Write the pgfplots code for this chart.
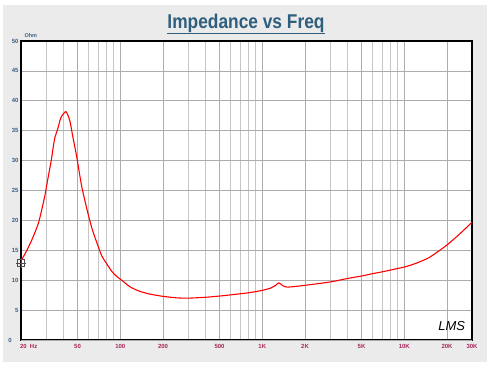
\documentclass[border=0pt]{standalone}
\usepackage{pgfplots}
\pgfplotsset{compat=1.18}
\usepackage{fontspec}
\setmainfont{Liberation Sans}
\definecolor{titleblue}{HTML}{2F5F7E}
\definecolor{ytickc}{HTML}{3B5F86}
\definecolor{xtickc}{HTML}{A8265A}
\definecolor{panel}{HTML}{EBEBEB}
\begin{document}
\begin{tikzpicture}[x=1bp,y=1bp]
\useasboundingbox (0,0) rectangle (490,368);
\fill[white] (0,0) rectangle (490,368);
\fill[panel] (3,6) rectangle (487,363);
\node[text=titleblue,font=\bfseries\fontsize{20}{22}\selectfont] at (246,344) {\scalebox{0.87}[1]{\underline{Impedance vs Freq}}};
\begin{axis}[
  at={(21bp,28bp)}, anchor=south west,
  scale only axis, width=451bp, height=299bp,
  xmode=log, xmin=20, xmax=30000, ymin=0, ymax=50,
  axis background/.style={fill=white},
  axis line style={black, line width=1.2pt},
  xtick={20,50,100,200,500,1000,2000,5000,10000,20000,30000},
  xticklabels={\makebox[0pt][l]{\hspace{-1bp}20\ \ Hz},50,100,200,500,1K,2K,5K,10K,20K,30K},
  minor xtick={30,40,60,70,80,90,300,400,600,700,800,900,3000,4000,6000,7000,8000,9000},
  ytick={5,10,15,20,25,30,35,40,45,50},
  yticklabels={5,10,15,20,25,30,35,40,45,50},
  extra y ticks={0},
  extra y tick labels={},
  grid=both,
  major grid style={gray!65, line width=0.8pt},
  minor grid style={gray!45, line width=0.6pt},
  tick style={draw=none},
  minor tick length=0pt, major tick length=0pt,
  xticklabel style={text=xtickc, font=\bfseries\fontsize{6}{7}\selectfont, yshift=-1bp},
  yticklabel style={text=ytickc, font=\bfseries\fontsize{6}{7}\selectfont, xshift=1bp},
  clip=false,
]
\addplot[red, line width=1.1pt, smooth, tension=0.4] coordinates {
(20,13.2)(22,15.0)(24.1,17.0)(26.5,19.5)(28,21.8)(29.5,24.2)(30.2,25.6)(31.5,28)(32.7,30.1)(33.7,32.2)(34.6,33.8)(35.6,34.7)(36.6,35.6)(37.6,36.7)(38.6,37.4)(40,37.9)(41.4,38.2)(42.8,37.6)(44.3,36.5)(46.5,33.8)(49.3,30.7)(53.6,25.6)(59.2,21.2)(63.5,18.5)(68.6,16.2)(74,14.1)(80,12.8)(87,11.5)(94.7,10.6)(105,9.8)(117,8.9)(135,8.2)(160,7.7)(200,7.3)(250,7.05)(300,7.0)(400,7.15)(500,7.35)(600,7.55)(800,7.9)(1000,8.3)(1150,8.7)(1250,9.2)(1310,9.55)(1390,9.1)(1490,8.85)(1700,8.95)(2000,9.15)(3000,9.7)(4000,10.3)(5000,10.7)(6000,11.1)(7000,11.4)(8000,11.7)(10000,12.2)(12000,12.8)(15000,13.8)(20000,15.9)(25000,17.9)(30000,19.7)
};
\addplot[only marks, mark=square, mark size=3.8bp, gray!60!black, line width=0.7pt] coordinates {(20,12.9)};
\addplot[only marks, mark=+, mark size=5bp, gray!60!black, line width=0.5pt] coordinates {(20,12.9)};
\node[text=ytickc, font=\bfseries\fontsize{5.5}{6}\selectfont, anchor=south west] at (rel axis cs:0,1) {Ohm};
\node[text=ytickc, font=\bfseries\fontsize{6}{7}\selectfont, anchor=east, inner sep=1bp] at (rel axis cs:-0.018,0) {0};
\node[font=\itshape\fontsize{13}{14}\selectfont, anchor=south east, inner sep=0pt] at (rel axis cs:0.985,0.03) {LMS};
\end{axis}
\end{tikzpicture}
\end{document}
